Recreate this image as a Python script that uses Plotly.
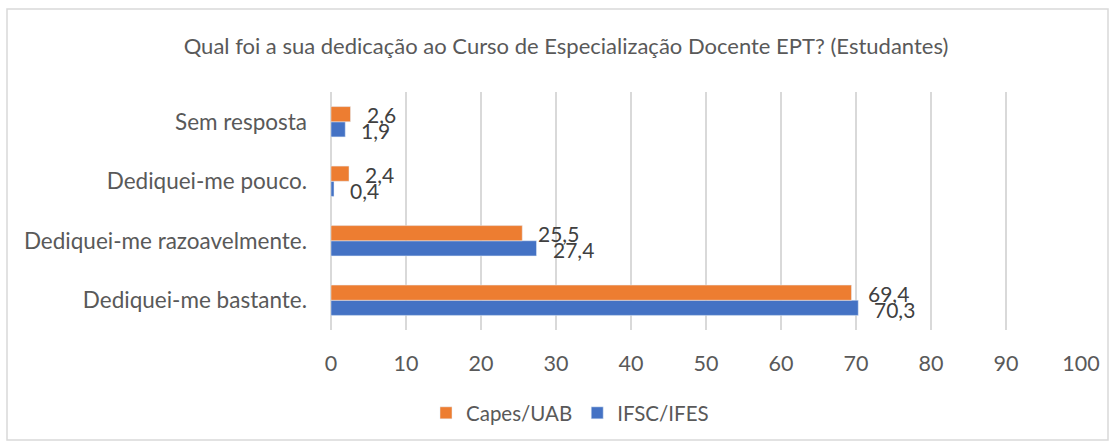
import plotly.graph_objects as go

categories = ["Dediquei-me bastante.", "Dediquei-me razoavelmente.", "Dediquei-me pouco.", "Sem resposta"]
capes_uab = [69.4, 25.5, 2.4, 2.6]
ifsc_ifes = [70.3, 27.4, 0.4, 1.9]
x_ticks = [0, 10, 20, 30, 40, 50, 60, 70, 80, 90, 100]

ORANGE = "#ED7D31"
BLUE = "#4472C4"
GRAY = "#595959"
FONT = "Lato"

W, H = 1115, 447
L, R, T, B = 331, 1081, 92, 330

fig = go.Figure()
fig.add_trace(go.Bar(y=categories, x=ifsc_ifes, orientation="h", name="IFSC/IFES",
                     marker_color=BLUE, legendrank=2))
fig.add_trace(go.Bar(y=categories, x=capes_uab, orientation="h", name="Capes/UAB",
                     marker_color=ORANGE, legendrank=1))

def fmt(v):
    return f"{v:.1f}".replace(".", ",")

ann = []
for c, v in zip(categories, capes_uab):
    ann.append(dict(x=v, y=c, xref="x", yref="y", text=fmt(v), showarrow=False,
                    xanchor="left", yanchor="middle", xshift=14, yshift=7,
                    font=dict(family=FONT, size=21, color="#404040")))
for c, v in zip(categories, ifsc_ifes):
    ann.append(dict(x=v, y=c, xref="x", yref="y", text=fmt(v), showarrow=False,
                    xanchor="left", yanchor="middle", xshift=14, yshift=-9,
                    font=dict(family=FONT, size=21, color="#404040")))

pw, ph = R - L, B - T
fig.add_shape(type="rect", xref="paper", yref="paper",
              x0=(7 - L) / pw, x1=(1108 - L) / pw,
              y0=(B - 440) / ph, y1=(B - 9) / ph,
              line=dict(color="#D9D9D9", width=1.5), fillcolor="rgba(0,0,0,0)", layer="below")

fig.update_layout(
    width=W, height=H,
    margin=dict(l=L, r=W - R, t=T, b=H - B, autoexpand=False),
    plot_bgcolor="white", paper_bgcolor="white",
    barmode="group", bargap=0.49, bargroupgap=0,
    font=dict(family=FONT, size=21, color=GRAY),
    title=dict(text="Qual foi a sua dedicação ao Curso de Especialização Docente EPT? (Estudantes)",
               x=566 / W, xanchor="center", y=1 - 46 / H, yanchor="middle",
               font=dict(family=FONT, size=22, color=GRAY)),
    xaxis=dict(range=[0, 100], tickvals=x_ticks, showgrid=True, gridcolor="#D9D9D9",
               gridwidth=1.5, zeroline=True, zerolinecolor="#D9D9D9", zerolinewidth=1.5,
               showline=False, ticks="", ticklabelstandoff=18, automargin=False,
               tickfont=dict(family=FONT, size=21.5, color=GRAY)),
    yaxis=dict(categoryorder="array", categoryarray=categories, showgrid=False,
               ticks="", ticklabelstandoff=23, showline=False, automargin=False,
               tickfont=dict(family=FONT, size=22.5, color=GRAY)),
    legend=dict(orientation="h", x=570 / W, xanchor="center", y=1 - 413 / H, yanchor="middle",
                xref="container", yref="container",
                font=dict(family=FONT, size=20.5, color=GRAY), itemwidth=30),
    annotations=ann,
    showlegend=True,
)

fig.write_html("out.html", config={"displayModeBar": False},
               post_script="document.body.style.margin='0';document.body.style.overflow='hidden';")
